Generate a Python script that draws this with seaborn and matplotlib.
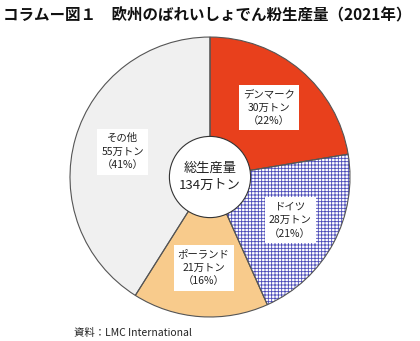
import matplotlib
matplotlib.use("Agg")
import matplotlib.pyplot as plt
import seaborn as sns
from matplotlib.patches import Circle

# ---- data ----
countries = ["デンマーク", "ドイツ", "ポーランド", "その他"]
volumes = [30, 28, 21, 55]          # 万トン
shares = [22, 21, 16, 41]           # %
total = 134
title = "コラムー図１　欧州のばれいしょでん粉生産量（2021年）"
source = "資料：LMC International"

colors = ["#E8401C", "#FFFFFF", "#F8CB8C", "#F0F0F0"]
hatches = [None, "+++++", None, None]

sns.set_theme(style="white")
plt.rcParams["font.family"] = ["Noto Sans CJK JP", "DejaVu Sans"]
plt.rcParams["hatch.linewidth"] = 0.6

fig = plt.figure(figsize=(4.2, 3.41), dpi=100)
ax = fig.add_axes([0.15, 0.0499, 0.70, 0.862])

labels = [f"{c}\n{v}万トン\n（{s}%）" for c, v, s in zip(countries, volumes, shares)]

# fills
wedges, texts = ax.pie(volumes, colors=colors, startangle=90, counterclock=False,
                       radius=1.0, wedgeprops=dict(linewidth=0),
                       labels=labels, labeldistance=0.65,
                       textprops=dict(fontsize=7.5, ha="center", va="center",
                                      linespacing=1.45, color="#222222"))
for w, h in zip(wedges, hatches):
    if h:
        w.set_hatch(h)
        w.set_edgecolor("#4A4AB8")
for t in texts:
    t.set_bbox(dict(facecolor="white", edgecolor="none", pad=3))

# outlines
ax.pie(volumes, colors=["none"] * len(volumes), startangle=90, counterclock=False,
       radius=1.0, wedgeprops=dict(linewidth=0.8, edgecolor="#555555", fill=False))

# centre circle
ax.add_patch(Circle((0, 0), 0.29, facecolor="white", edgecolor="#333333",
                    linewidth=0.8, zorder=5))
ax.text(0, 0, f"総生産量\n{total}万トン", ha="center", va="center",
        fontsize=9.5, linespacing=1.4, color="#222222", zorder=6)

ax.set_aspect("auto")
ax.set_xlim(-1.05, 1.05)
ax.set_ylim(-1.05, 1.05)
ax.axis("off")

fig.text(0.006, 0.955, title, fontsize=11.2, fontweight="bold",
         ha="left", va="center", color="#111111")
fig.text(0.176, 0.024, source, fontsize=7.5, ha="left", va="center",
         color="#222222")

fig.savefig("out.png", dpi=100)
